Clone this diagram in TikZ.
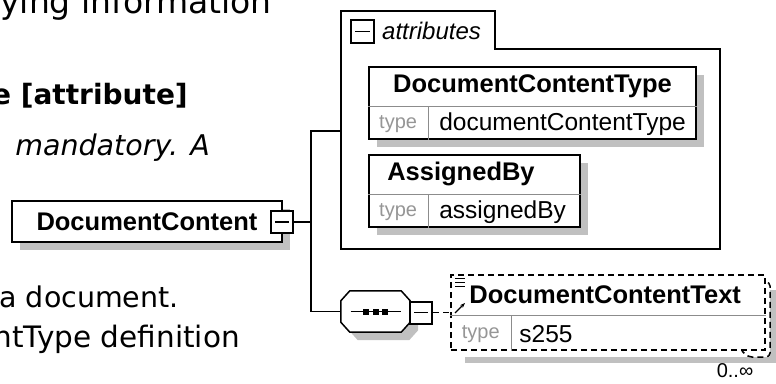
\documentclass[tikz,border=0pt]{standalone}
\usepackage{fontspec}
\setmainfont{DejaVu Sans}
\newfontfamily\diagfont{Liberation Sans}
\usetikzlibrary{calc,shadows,arrows.meta}
\definecolor{shadowgray}{RGB}{192,192,192}
\definecolor{typegray}{RGB}{150,150,150}
\definecolor{rulegray}{RGB}{140,140,140}

% octagon of the sequence node, shifted by #1,#2
\newcommand{\seqoutline}[2]{($(seq.north west)+(9+#1,#2)$) -- ($(seq.north east)+(-9+#1,#2)$)
  -- ($(seq.north east)+(#1,10+#2)$) -- ($(seq.south east)+(#1,-10+#2)$)
  -- ($(seq.south east)+(-9+#1,#2)$) -- ($(seq.south west)+(9+#1,#2)$)
  -- ($(seq.south west)+(#1,-10+#2)$) -- ($(seq.north west)+(#1,10+#2)$) -- cycle}

\tikzset{
  elembox/.style={draw, line width=1.8pt, fill=white, inner sep=0pt,
    drop shadow={shadow xshift=8pt, shadow yshift=-8pt, fill=shadowgray, opacity=1}},
  minusbox/.style={draw, line width=2pt, fill=white, minimum size=22pt, inner sep=0pt,
    path picture={\draw[line width=1.2pt] ($(path picture bounding box.west)+(4,0)$) -- ($(path picture bounding box.east)+(-4,0)$);}},
  seqbox/.style={minimum width=69pt, minimum height=41pt, inner sep=0pt},
  titletext/.style={font=\diagfont\bfseries\fontsize{25.5}{30}\selectfont, inner sep=0pt},
  valuetext/.style={font=\diagfont\fontsize{24.5}{29}\selectfont, inner sep=0pt, anchor=west},
  typetext/.style={font=\diagfont\fontsize{20}{24}\selectfont, text=typegray, inner sep=0pt},
  doctext/.style={font=\fontsize{28.5}{34}\selectfont, inner sep=0pt, anchor=base east},
  conn/.style={line width=1.5pt},
}

\begin{document}
\begin{tikzpicture}[x=1pt, y=-1pt]
    \useasboundingbox (0,0) rectangle (776,383);

    % Documentation text, cut off at the left
    \node[doctext, font=\fontsize{33}{40}\selectfont] (intro) at (272,13) {ying information};
    \node[doctext, font=\bfseries\fontsize{28}{34}\selectfont] (kind) at (188,104) {e [attribute]};
    \node[doctext, font=\itshape\fontsize{28.5}{34}\selectfont] (usage) at (210,155) {mandatory. A};
    \node[doctext] (purpose) at (179,307) {a document.};
    \node[doctext, font=\fontsize{29.5}{36}\selectfont] (typedef) at (240,347) {ntType definition};

    % Root element
    \node[elembox, titletext, minimum width=270pt, minimum height=41pt] (content) at (147,221.5) {DocumentContent};
    \node[minusbox] (contentminus) at (282,222) {};
    \coordinate (branch) at (311,222);

    % Attributes group
    \draw[line width=1.5pt] (341,11) -- (495,11) -- (495,49) -- (720,49) -- (720,249) -- (341,249) -- cycle;
    \coordinate (attrin) at (341,131);
    \node[minusbox, minimum size=23pt] (attrminus) at (362.5,31.5) {};
    \node[font=\diagfont\itshape\fontsize{24}{29}\selectfont, inner sep=0pt, anchor=west] (attrlabel) at (382,31) {attributes};

    % DocumentContentType
    \node[elembox, minimum width=327pt, minimum height=72pt] (ctype) at (532.5,103) {};
    \draw[rulegray] ($(ctype.north west)+(0,40)$) -- ($(ctype.north east)+(0,40)$);
    \draw[rulegray] ($(ctype.north west)+(60,40)$) -- ($(ctype.south west)+(60,0)$);
    \node[titletext] (ctypename) at ($(ctype.north)+(0,20)$) {DocumentContentType};
    \node[typetext] (ctypekey) at ($(ctype.south west)+(30,-16)$) {type};
    \node[valuetext] (ctypeval) at ($(ctype.south west)+(71,-16)$) {documentContentType};

    % AssignedBy
    \node[elembox, minimum width=211pt, minimum height=72pt] (assigned) at (474.5,191) {};
    \draw[rulegray] ($(assigned.north west)+(0,40)$) -- ($(assigned.north east)+(0,40)$);
    \draw[rulegray] ($(assigned.north west)+(60,40)$) -- ($(assigned.south west)+(60,0)$);
    \node[titletext, anchor=west] (assignedname) at ($(assigned.north west)+(19,20)$) {AssignedBy};
    \node[typetext] (assignedkey) at ($(assigned.south west)+(30,-16)$) {type};
    \node[valuetext] (assignedval) at ($(assigned.south west)+(71,-16)$) {assignedBy};

    % Sequence
    \node[seqbox] (seq) at (375.5,311.5) {};
    \fill[shadowgray] \seqoutline{8}{8};
    \draw[line width=1.5pt, fill=white] \seqoutline{0}{0};
    \draw[line width=1.2pt] ($(seq.center)+(-25,0)$) -- ($(seq.center)+(25,0)$);
    \foreach \dx in {-9.5,0,9.5}
        \fill ($(seq.center)+(\dx,0)$) +(-3,-3) rectangle +(3,3);
    \node[minusbox] (seqminus) at (421,312.5) {};

    % DocumentContentText, 0..unbounded
    \fill[shadowgray] (465,290) rectangle (778,363);
    \fill[white] (456,282) rectangle (770,357);
    \draw[line width=1.5pt, dash pattern=on 6pt off 4pt, rounded corners=4pt]
        (758,282) -- (770,282) -- (770,357) -- (748,357) -- (742,351);
    \node[draw, line width=1.5pt, dash pattern=on 6pt off 4pt, fill=white, inner sep=0pt,
        minimum width=314pt, minimum height=75pt] (textelem) at (608,312.5) {};
    \draw[rulegray] ($(textelem.north west)+(0,41)$) -- ($(textelem.north east)+(0,41)$);
    \draw[rulegray] ($(textelem.north west)+(61,41)$) -- ($(textelem.south west)+(61,0)$);
    \node[titletext, anchor=west] (textname) at ($(textelem.north west)+(19,20.5)$) {DocumentContentText};
    \node[typetext] (textkey) at ($(textelem.south west)+(30.5,-17)$) {type};
    \node[valuetext] (textval) at ($(textelem.south west)+(69,-17)$) {s255};
    \foreach \yy in {278,282,286}
        \draw[line width=1pt] (455,\yy) -- (465,\yy);
    \draw[-{Stealth[length=5pt]}, line width=1.2pt] (455,313) -- (465,303);
    \node[font=\diagfont\fontsize{20}{24}\selectfont, inner sep=0pt] (occurs) at (735,371) {0..∞};

    % Connectors
    \draw[conn] (contentminus.east) -- (branch);
    \draw[conn] (attrin) -| (branch) |- (seq.west);
    \draw[conn, dash pattern=on 6pt off 4pt] (seqminus.east) -- (textelem.west);
\end{tikzpicture}
\end{document}
